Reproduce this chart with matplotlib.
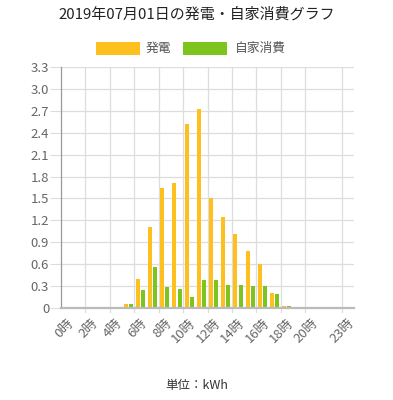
import matplotlib
matplotlib.use("Agg")
import matplotlib.pyplot as plt
from matplotlib.patches import Rectangle
import numpy as np

plt.rcParams['font.family'] = ['Noto Sans CJK JP', 'DejaVu Sans']

title = "2019年07月01日の発電・自家消費グラフ"
hours = list(range(24))
hour_labels = [f"{h}時" for h in hours]
shown_ticks = [0, 2, 4, 6, 8, 10, 12, 14, 16, 18, 20, 23]
series_names = ["発電", "自家消費"]
generation = [0, 0, 0, 0, 0, 0.05, 0.40, 1.11, 1.65, 1.71, 2.52, 2.72,
              1.50, 1.24, 1.02, 0.78, 0.60, 0.21, 0.03, 0, 0, 0, 0, 0]
self_use = [0, 0, 0, 0, 0, 0.05, 0.24, 0.56, 0.29, 0.26, 0.15, 0.39,
            0.39, 0.31, 0.32, 0.30, 0.30, 0.19, 0.03, 0, 0, 0, 0, 0]
y_ticks = [0, 0.3, 0.6, 0.9, 1.2, 1.5, 1.8, 2.1, 2.4, 2.7, 3.0, 3.3]
unit_label = "単位：kWh"

c_gen = '#FDC01E'
c_use = '#7EC41F'

fig = plt.figure(figsize=(3.93, 4.00), dpi=100)
ax = fig.add_axes([0.1552, 0.23, 0.7456, 0.6025])

x = np.arange(len(hours))
w = 0.33
ax.bar(x - 0.21, generation, width=w, color=c_gen, linewidth=0, label=series_names[0], zorder=3)
ax.bar(x + 0.21, self_use, width=w, color=c_use, linewidth=0, label=series_names[1], zorder=3)

ax.set_xlim(-0.5, 23.5)
ax.set_ylim(0, 3.3)

# y axis
ax.set_yticks(y_ticks)
ax.set_yticklabels([("0" if v == 0 else f"{v:.1f}") for v in y_ticks])
ax.tick_params(axis='y', length=8, width=0.8, color='#dddddd', labelsize=9.5,
               labelcolor='#666666', pad=0.5)
for v in y_ticks:
    ax.axhline(v, color='#dddddd', linewidth=0.9, zorder=1)

# x axis
ax.set_xticks(shown_ticks)
ax.set_xticklabels([hour_labels[h] for h in shown_ticks], rotation=45,
                   ha='right', rotation_mode='anchor')
ax.tick_params(axis='x', length=0, labelsize=9.5, labelcolor='#666666', pad=6)
for h in shown_ticks:
    if h == 0:
        continue
    ax.plot([h - 0.5, h - 0.5], [-0.06, 3.3], color='#dddddd', linewidth=0.9,
            zorder=1, clip_on=False)

for s in ['top', 'right']:
    ax.spines[s].set_visible(False)
ax.spines['left'].set_color('#999999')
ax.spines['left'].set_linewidth(0.9)
ax.spines['bottom'].set_color('#bbbbbb')
ax.spines['bottom'].set_linewidth(1.6)
ax.spines['bottom'].set_zorder(4)

fig.text(0.5, 0.965, title, ha='center', va='center', fontsize=10.8, color='#222222')

# legend (drawn manually to match box sizes)
legend_items = [(series_names[0], c_gen, 0.2443, 0.3715),
                (series_names[1], c_use, 0.4649, 0.598)]
for name, col, bx, tx in legend_items:
    fig.patches.append(Rectangle((bx, 0.8633), 0.112, 0.0317, transform=fig.transFigure,
                                 facecolor=col, edgecolor='none'))
    fig.text(tx, 0.879, name, ha='left', va='center', fontsize=9.2, color='#555555')

fig.text(0.5, 0.0375, unit_label, ha='center', va='center', fontsize=9, color='#333333')

fig.savefig("out.png", dpi=100)
